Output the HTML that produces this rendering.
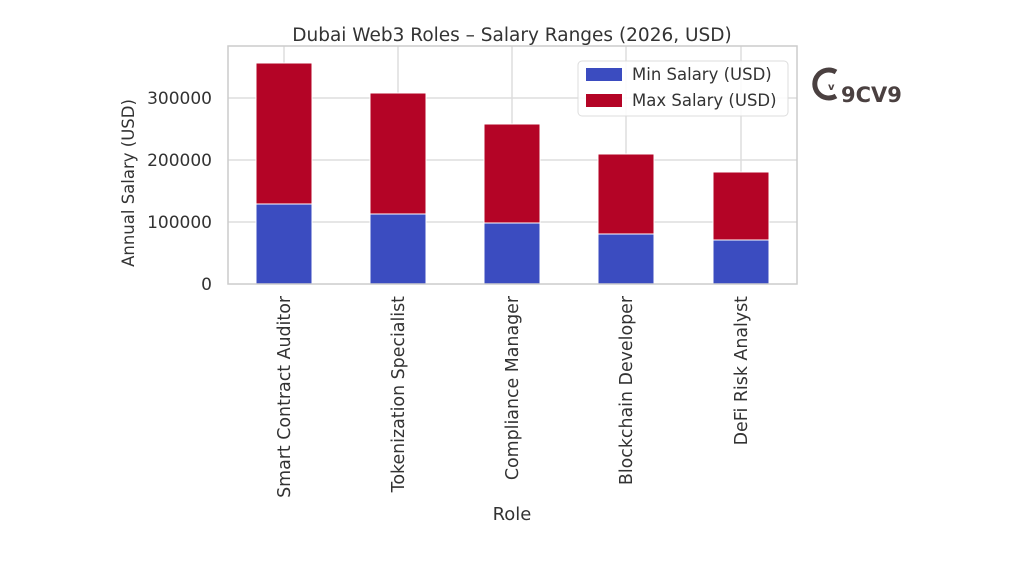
<!DOCTYPE html>
<html><head><meta charset="utf-8"><style>body{margin:0;background:#fff}svg{display:block}text{font-family:"DejaVu Sans","Liberation Sans",sans-serif;fill:#333}</style></head>
<body>
<svg width="1024" height="576" viewBox="0 0 1024 576">
<rect width="1024" height="576" fill="#fff"/>
<g stroke="#ddd" stroke-width="1.5">
<line x1="228" y1="222" x2="797" y2="222"/><line x1="228" y1="160" x2="797" y2="160"/><line x1="228" y1="98" x2="797" y2="98"/>
<line x1="284" y1="46" x2="284" y2="284"/><line x1="398" y1="46" x2="398" y2="284"/><line x1="512" y1="46" x2="512" y2="284"/><line x1="626" y1="46" x2="626" y2="284"/><line x1="741" y1="46" x2="741" y2="284"/>
</g>
<g stroke="#fff" stroke-width="1">
<rect x="256" y="63" width="56" height="141" fill="#b40426"/><rect x="256" y="204" width="56" height="80" fill="#3b4cc0"/>
<rect x="370" y="93" width="56" height="121" fill="#b40426"/><rect x="370" y="214" width="56" height="70" fill="#3b4cc0"/>
<rect x="484" y="124" width="56" height="99" fill="#b40426"/><rect x="484" y="223" width="56" height="61" fill="#3b4cc0"/>
<rect x="598" y="154" width="56" height="80" fill="#b40426"/><rect x="598" y="234" width="56" height="50" fill="#3b4cc0"/>
<rect x="713" y="172" width="56" height="68" fill="#b40426"/><rect x="713" y="240" width="56" height="44" fill="#3b4cc0"/>
</g>
<rect x="228" y="46" width="569" height="238" fill="none" stroke="#ccc" stroke-width="1.5"/>
<g font-size="17" text-anchor="end">
<text x="212" y="290">0</text><text x="212" y="228">100000</text><text x="212" y="166">200000</text><text x="212" y="104">300000</text>
</g>
<text x="512" y="41" font-size="18.5" text-anchor="middle">Dubai Web3 Roles – Salary Ranges (2026, USD)</text>
<text transform="translate(134,183) rotate(-90)" font-size="16.5" text-anchor="middle">Annual Salary (USD)</text>
<text x="512" y="520" font-size="18" text-anchor="middle">Role</text>
<g font-size="17.4" text-anchor="end">
<text transform="translate(290,296) rotate(-90)">Smart Contract Auditor</text>
<text transform="translate(404,296) rotate(-90)">Tokenization Specialist</text>
<text transform="translate(518,296) rotate(-90)">Compliance Manager</text>
<text transform="translate(632,296) rotate(-90)">Blockchain Developer</text>
<text transform="translate(747,296) rotate(-90)">DeFi Risk Analyst</text>
</g>
<rect x="578" y="61" width="210" height="55" rx="4" fill="#fff" fill-opacity="0.85" stroke="#ddd"/>
<rect x="586" y="68" width="36" height="13" fill="#3b4cc0"/><text x="632" y="80" font-size="16.5">Min Salary (USD)</text>
<rect x="586" y="94" width="36" height="13" fill="#b40426"/><text x="632" y="106" font-size="16.5">Max Salary (USD)</text>
<g fill="none" stroke="#4a4040" stroke-width="5"><path d="M836 72 A14 14 0 1 0 836 96"/></g>
<text x="828" y="90" font-size="10" font-weight="bold" style="fill:#4a4040">v</text>
<text x="841" y="102" font-size="21" font-weight="bold" style="fill:#4a4040">9CV9</text>
</svg>
</body></html>
